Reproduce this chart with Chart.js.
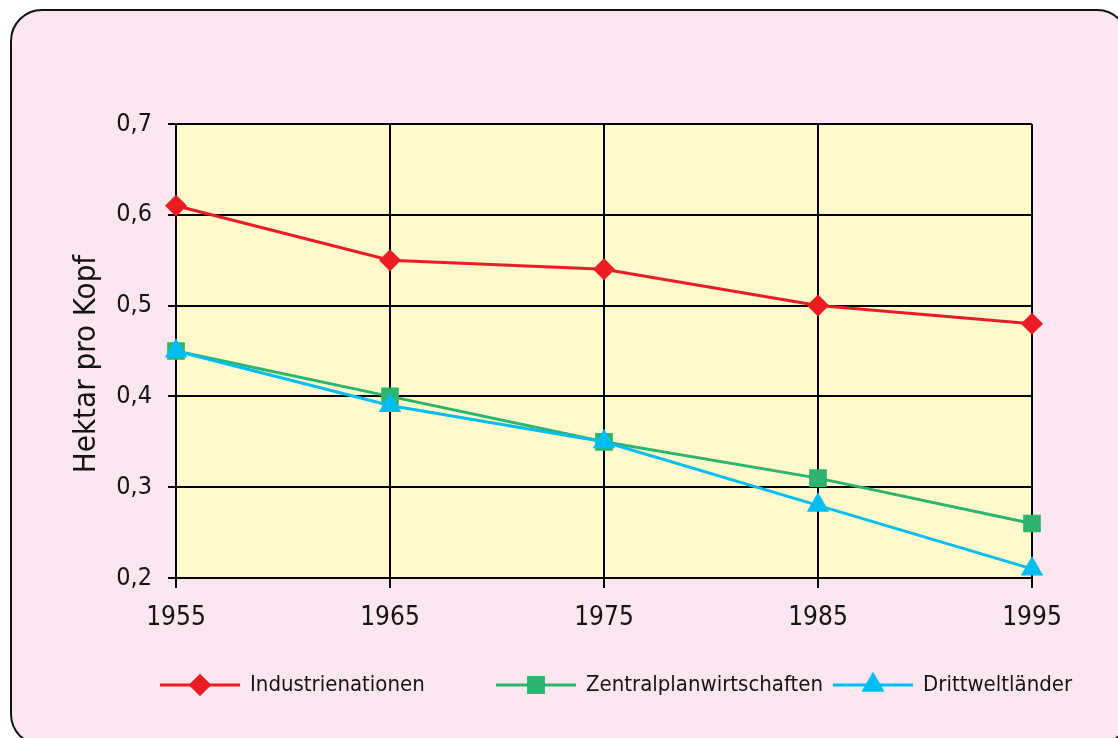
<!DOCTYPE html>
<html><head><meta charset="utf-8">
<script src="https://cdn.jsdelivr.net/npm/chart.js@4"></script>
<style>
html,body{margin:0;padding:0;background:#fff;width:1118px;height:738px;overflow:hidden}
#frame{position:absolute;left:10px;top:9px;width:1119px;height:737px;box-sizing:border-box;border:2px solid #111;border-radius:32px;background:#fce7f0}
#wrap{position:absolute;left:0;top:0;width:1118px;height:738px}
</style></head><body>
<div id="frame"></div>
<div id="wrap"><canvas id="c" width="1118" height="738"></canvas></div>
<script>
const years = ['1955', '1965', '1975', '1985', '1995'];
const industrienationen = [0.61, 0.55, 0.54, 0.50, 0.48];
const zentralplanwirtschaften = [0.45, 0.40, 0.35, 0.31, 0.26];
const drittweltlaender = [0.45, 0.39, 0.35, 0.28, 0.21];
const seriesNames = ['Industrienationen', 'Zentralplanwirtschaften', 'Drittweltländer'];
const yMin = 0.2, yMax = 0.7, yStep = 0.1;
const yTitle = 'Hektar pro Kopf';

const FONT = "'Liberation Sans Narrow', 'DejaVu Sans Condensed', 'Roboto', sans-serif";
const RED = '#ec1c24', GREEN = '#2db46e', BLUE = '#00bdf2';
const TEXT = '#151515';

const plotBg = {
  id: 'plotBg',
  beforeDraw(chart) {
    const {ctx, chartArea: a} = chart;
    ctx.save();
    ctx.fillStyle = '#fff9cc';
    ctx.fillRect(a.left, a.top, a.right - a.left, a.bottom - a.top);
    ctx.restore();
  }
};

const extrasPlugin = {
  id: 'extras',
  afterDraw(chart) {
    const ctx = chart.ctx;
    // y-axis title
    ctx.save();
    ctx.translate(95, (chart.chartArea.top + chart.chartArea.bottom) / 2 + 13);
    ctx.rotate(-Math.PI / 2);
    ctx.fillStyle = TEXT;
    ctx.font = '31px ' + FONT;
    ctx.textAlign = 'center';
    ctx.textBaseline = 'alphabetic';
    ctx.fillText(yTitle, 0, 0);
    ctx.restore();
    // legend
    const y = 685;
    const starts = [160, 496, 833];
    const lineLen = 80;
    ctx.save();
    chart.data.datasets.forEach((ds, i) => {
      const x0 = starts[i];
      ctx.strokeStyle = ds.borderColor;
      ctx.lineWidth = ds.borderWidth;
      ctx.beginPath(); ctx.moveTo(x0, y); ctx.lineTo(x0 + lineLen, y); ctx.stroke();
      ctx.fillStyle = ds.pointBackgroundColor;
      ctx.beginPath();
      Chart.helpers.drawPoint(ctx, {pointStyle: ds.pointStyle, rotation: 0, borderWidth: 0, radius: ds.pointRadius}, x0 + lineLen / 2, y);
      ctx.fill();
      ctx.fillStyle = TEXT;
      ctx.font = '22px ' + FONT;
      ctx.textBaseline = 'middle';
      ctx.textAlign = 'left';
      ctx.fillText(ds.label, x0 + lineLen + 10, y);
    });
    ctx.restore();
  }
};

function mk(label, data, color, style, r, order) {
  return {
    label, data, order,
    borderColor: color, backgroundColor: color,
    pointBackgroundColor: color, pointBorderColor: color,
    borderWidth: 3, pointStyle: style, pointRadius: r, pointBorderWidth: 0,
    pointHoverRadius: r, tension: 0, fill: false
  };
}

new Chart(document.getElementById('c'), {
  type: 'line',
  data: {
    labels: years,
    datasets: [
      mk(seriesNames[0], industrienationen, RED, 'rectRot', 11, 2),
      mk(seriesNames[1], zentralplanwirtschaften, GREEN, 'rect', 12.5, 1),
      mk(seriesNames[2], drittweltlaender, BLUE, 'triangle', 13, 0)
    ]
  },
  options: {
    responsive: false, animation: false, devicePixelRatio: 1,
    layout: {padding: {left: 0, top: 124, right: 86, bottom: 0}},
    plugins: {legend: {display: false}, tooltip: {enabled: false}},
    scales: {
      x: {
        type: 'category', offset: false,
        grid: {color: '#000', lineWidth: 2, tickLength: 10, drawTicks: true, tickWidth: 2},
        border: {display: true, color: '#000', width: 2},
        ticks: {color: TEXT, font: {family: FONT, size: 26}, padding: 15, maxRotation: 0},
        afterFit(s) { s.height = 160; }
      },
      y: {
        min: yMin, max: yMax,
        grid: {color: '#000', lineWidth: 2, tickLength: 8, tickWidth: 2},
        border: {display: true, color: '#000', width: 2},
        ticks: {stepSize: yStep, color: TEXT, font: {family: FONT, size: 25}, padding: 16,
          callback: v => v.toFixed(1).replace('.', ',')},
        title: {display: false, text: yTitle},
        afterFit(s) { s.width = 176; }
      }
    }
  },
  plugins: [plotBg, extrasPlugin]
});
</script>
</body></html>
